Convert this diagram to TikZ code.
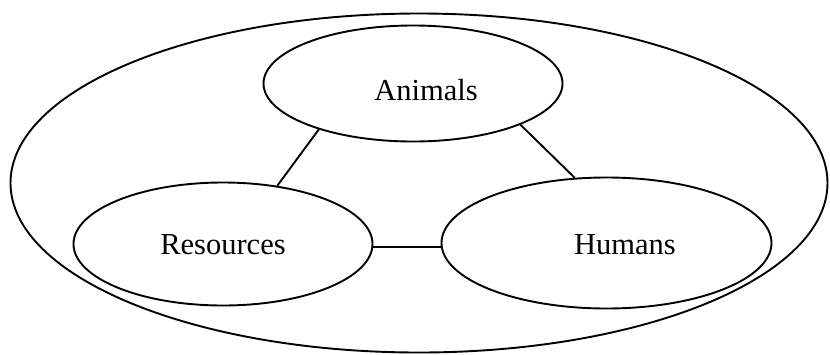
\documentclass[tikz,border=0pt]{standalone}
\usepackage{fontspec}
\setmainfont{Liberation Serif}
\usetikzlibrary{shapes.geometric}
\begin{document}
\begin{tikzpicture}[x=1pt,y=-1pt,
  bubble/.style={draw,ellipse,line width=1.9pt,inner sep=0pt},
  lbl/.style={font=\fontsize{30.5}{36}\selectfont,inner sep=0pt},
  link/.style={line width=1.9pt}]
\useasboundingbox (0,0) rectangle (830,354);
\node[bubble,minimum width=817pt,minimum height=339pt] (O) at (419,183) {};
\node[bubble,minimum width=299pt,minimum height=116pt] (A) at (413,83.5) {};
\node[bubble,minimum width=299pt,minimum height=123pt] (R) at (223,244) {};
\node[bubble,minimum width=330pt,minimum height=131pt] (H) at (606.5,243) {};
\node[lbl] (At) at (426,90) {Animals};
\node[lbl] (Rt) at (223,245) {Resources};
\node[lbl] (Ht) at (625,245) {Humans};
\draw[link] (A.206.3) -- (R.47.4);
\draw[link] (A.339.8) -- (H.116.2);
\draw[link] (R.-1.8) -- (R.-1.8 -| H.west);
\end{tikzpicture}
\end{document}
